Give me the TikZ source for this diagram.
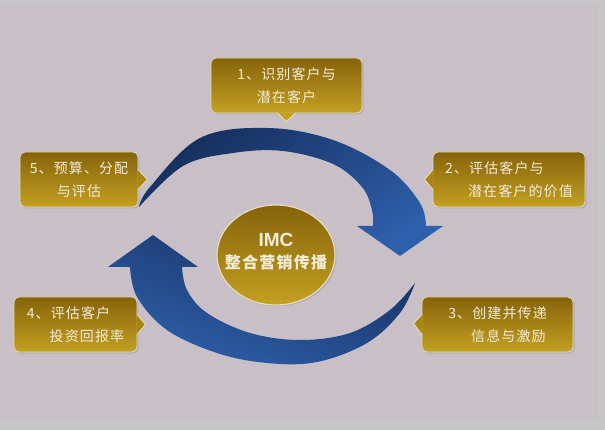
\documentclass[tikz,border=0pt]{standalone}
\usepackage{fontspec}
\setmainfont{Liberation Sans}
\newfontfamily\cjk[LetterSpace=8]{Noto Sans CJK SC}
\usetikzlibrary{shapes.geometric,shadows}

\definecolor{bgmauve}{HTML}{C9BFC7}
\definecolor{bggray}{HTML}{C6C6C6}
\definecolor{golddark}{HTML}{86630A}
\definecolor{goldmid}{HTML}{A9860F}
\definecolor{goldlight}{HTML}{C4A022}
\definecolor{navydark}{HTML}{162F5E}
\definecolor{navylight}{HTML}{2E60AC}
\definecolor{cream}{HTML}{F3EDDA}
\definecolor{rim}{HTML}{E4DCC2}

\begin{document}
\begin{tikzpicture}[x=1pt,y=-1pt,
    stepbox/.style={rectangle, rounded corners=5pt, draw=rim, line width=0.8pt,
      top color=golddark, bottom color=goldlight, text=cream,
      font=\cjk\fontsize{14}{23}\selectfont, align=left,
      minimum height=55pt, inner sep=3pt,
      drop shadow={opacity=0.3, shadow xshift=1.5pt, shadow yshift=-1.5pt}},
    boxpointer/.style={fill=#1},
    pointerrim/.style={draw=rim, line width=0.8pt},
    hub/.style={ellipse, minimum width=118pt, minimum height=100pt,
      inner xsep=-10pt, inner ysep=0pt,
      top color=golddark, bottom color=goldlight, draw=rim, line width=1.2pt,
      text=cream, align=center, font=\fontsize{16}{22}\selectfont,
      drop shadow={opacity=0.3, shadow xshift=1.5pt, shadow yshift=-1.5pt}},
    bigarrow/.style={shading=axis, top color=navydark, bottom color=navylight}]

  % background
  \useasboundingbox (0,0) rectangle (605,430);
  \fill[bggray] (0,0) rectangle (605,430);
  \fill[bgmauve] (0,3) rectangle (598,420);

  % upper arrow
  \path[bigarrow, shading angle=35]
    (139,207) -- plot[smooth, tension=0.6] coordinates {(139,207) (150,187) (200,138) (267,128) (333,140) (390,170) (420,203) (426,226)}
    -- (443,226) -- (400,256) -- (357,226) -- (373,226)
    -- plot[smooth, tension=0.6] coordinates {(373,226) (372,210) (362,187) (333,164) (283,151) (233,153) (183,166) (139,207)}
    -- cycle;

  % lower arrow
  \path[bigarrow, shading angle=-20]
    (153,235) -- (198,267) -- (182,267)
    -- plot[smooth, tension=0.6] coordinates {(182,267) (187,290) (207,313) (250,333) (300,340) (350,333) (390,310) (415,283)}
    -- plot[smooth, tension=0.6] coordinates {(415,283) (400,313) (367,343) (317,362) (267,363) (217,353) (167,330) (137,297) (130,267)}
    -- (108,267) -- cycle;

  % centre
  \node[hub] (imc) at (276,255) {{\fontsize{19}{22}\selectfont\bfseries IMC}\\[0pt]
    {\cjk\bfseries 整合营销传播}\\[-14pt]};

  % steps
  \node[stepbox, minimum width=151pt, align=center] (s1) at (286.5,85.5) {1、识别客户与\\潜在客户};
  \node[stepbox, minimum width=152pt] (s2) at (509,179.5) {2、评估客户与\\\phantom{2、}潜在客户的价值};
  \node[stepbox, minimum width=151pt] (s3) at (497.5,324.5) {3、创建并传递\\\phantom{3、}信息与激励};
  \node[stepbox, minimum width=123pt] (s4) at (75.5,324.5) {4、评估客户\\\phantom{4、}投资回报率};
  \node[stepbox, minimum width=118pt, align=center] (s5) at (79,179.5) {5、预算、分配\\与评估};

  % pointers
  \fill[boxpointer=goldlight] ([xshift=-9pt,yshift=1pt]s1.south) -- ([yshift=-8pt]s1.south) -- ([xshift=9pt,yshift=1pt]s1.south) -- cycle;
  \draw[pointerrim] ([xshift=-9pt,yshift=0.4pt]s1.south) -- ([yshift=-8pt]s1.south) -- ([xshift=9pt,yshift=0.4pt]s1.south);
  \fill[boxpointer=goldmid] ([xshift=1pt,yshift=10pt]s2.west) -- ([xshift=-8pt]s2.west) -- ([xshift=1pt,yshift=-10pt]s2.west) -- cycle;
  \draw[pointerrim] ([xshift=0.4pt,yshift=10pt]s2.west) -- ([xshift=-8pt]s2.west) -- ([xshift=0.4pt,yshift=-10pt]s2.west);
  \fill[boxpointer=goldmid] ([xshift=1pt,yshift=10pt]s3.west) -- ([xshift=-8pt,yshift=1pt]s3.west) -- ([xshift=1pt,yshift=-10pt]s3.west) -- cycle;
  \draw[pointerrim] ([xshift=0.4pt,yshift=10pt]s3.west) -- ([xshift=-8pt,yshift=1pt]s3.west) -- ([xshift=0.4pt,yshift=-10pt]s3.west);
  \fill[boxpointer=goldmid] ([xshift=-1pt,yshift=10pt]s4.east) -- ([xshift=8pt]s4.east) -- ([xshift=-1pt,yshift=-10pt]s4.east) -- cycle;
  \draw[pointerrim] ([xshift=-0.4pt,yshift=10pt]s4.east) -- ([xshift=8pt]s4.east) -- ([xshift=-0.4pt,yshift=-10pt]s4.east);
  \fill[boxpointer=goldmid] ([xshift=-1pt,yshift=10pt]s5.east) -- ([xshift=9pt]s5.east) -- ([xshift=-1pt,yshift=-10pt]s5.east) -- cycle;
  \draw[pointerrim] ([xshift=-0.4pt,yshift=10pt]s5.east) -- ([xshift=9pt]s5.east) -- ([xshift=-0.4pt,yshift=-10pt]s5.east);
\end{tikzpicture}
\end{document}
